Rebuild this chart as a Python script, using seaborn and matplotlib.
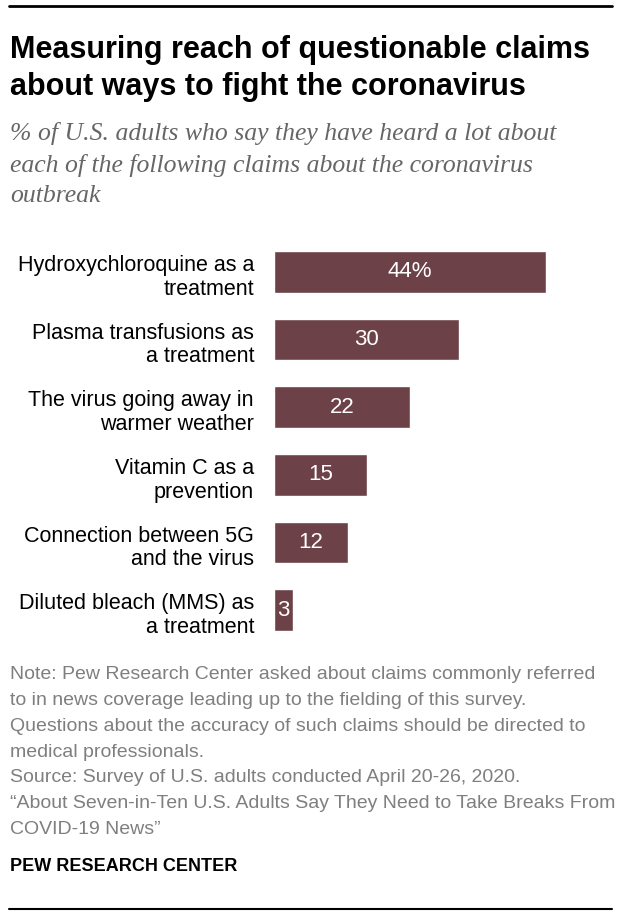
import matplotlib
matplotlib.use("Agg")
import matplotlib.pyplot as plt
import matplotlib.transforms as mtransforms
import seaborn as sns
import pandas as pd

# Data
claims = [
    "Hydroxychloroquine as a\ntreatment",
    "Plasma transfusions as\na treatment",
    "The virus going away in\nwarmer weather",
    "Vitamin C as a\nprevention",
    "Connection between 5G\nand the virus",
    "Diluted bleach (MMS) as\na treatment",
]
heard_a_lot = [44, 30, 22, 15, 12, 3]
value_labels = ["44%", "30", "22", "15", "12", "3"]

title = "Measuring reach of questionable claims\nabout ways to fight the coronavirus"
subtitle = ("% of U.S. adults who say they have heard a lot about\n"
            "each of the following claims about the coronavirus\n"
            "outbreak")
note = ("Note: Pew Research Center asked about claims commonly referred\n"
        "to in news coverage leading up to the fielding of this survey.\n"
        "Questions about the accuracy of such claims should be directed to\n"
        "medical professionals.\n"
        "Source: Survey of U.S. adults conducted April 20-26, 2020.\n"
        "\u201cAbout Seven-in-Ten U.S. Adults Say They Need to Take Breaks From\n"
        "COVID-19 News\u201d")

sns.set_theme(style="white")
plt.rcParams["font.family"] = ["Liberation Sans", "DejaVu Sans"]

df = pd.DataFrame({"claim": claims, "pct": heard_a_lot})

W, H = 626, 922
fig = plt.figure(figsize=(W / 100, H / 100), dpi=100)

# axes placed in pixel terms: value 0 at x=274, 6.18 px per point
x0, px_per = 274, 6.18
xmax = 50
top, bottom = 238, 644
ax = fig.add_axes([x0 / W, (H - bottom) / H, xmax * px_per / W, (bottom - top) / H])

bar_color = "#6d4148"
sns.barplot(data=df, x="pct", y="claim", orient="h", color=bar_color,
            width=0.62, saturation=1, ax=ax)
ax.set_xlim(0, xmax)
ax.set_ylim(5.5, -0.5)
ax.set_xlabel("")
ax.set_ylabel("")
ax.set_xticks([])
ax.set_yticks([])
for s in ax.spines.values():
    s.set_visible(False)

# category labels, right-aligned left of the bars and sitting a bit low
lab_tr = mtransforms.offset_copy(ax.get_yaxis_transform(), fig=fig,
                                 x=-20, y=-5.5, units="dots")
for i, c in enumerate(claims):
    ax.text(0, i, c, transform=lab_tr, ha="right", va="center",
            fontsize=15.5, linespacing=1.18, color="black")

for i, (v, txt) in enumerate(zip(heard_a_lot, value_labels)):
    ax.text(v / 2, i, txt, ha="center", va="center", color="white", fontsize=16)

# top / bottom rules
fig.add_artist(plt.Line2D([9 / W, 612 / W], [1 - 6 / H, 1 - 6 / H], color="black", lw=2))
fig.add_artist(plt.Line2D([9 / W, 612 / W], [1 - 909 / H, 1 - 909 / H], color="black", lw=1.5))

fig.text(10 / W, 1 - 35 / H, title, ha="left", va="top", fontsize=22, fontweight="bold",
         linespacing=1.31, color="black")
fig.text(10 / W, 1 - 122 / H, subtitle, ha="left", va="top", fontsize=18.5, style="italic",
         family=["Liberation Serif", "DejaVu Serif"], linespacing=1.5, color="#666666")
fig.text(10 / W, 1 - 666 / H, note, ha="left", va="top", fontsize=14,
         linespacing=1.68, color="#7f7f7f")
fig.text(10 / W, 1 - 858 / H, "PEW RESEARCH CENTER", ha="left", va="top", fontsize=13,
         fontweight="bold", color="black")

fig.savefig("out.png", dpi=100, facecolor="white")
